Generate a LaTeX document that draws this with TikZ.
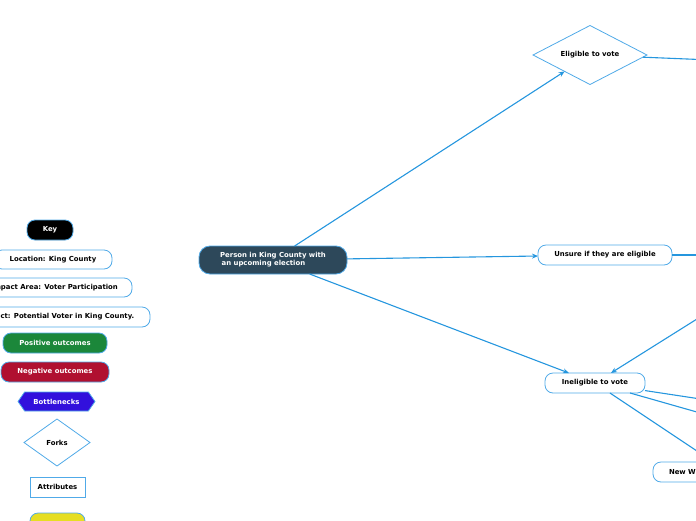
\documentclass[tikz,border=0pt]{standalone}
\usepackage{fontspec}
\setmainfont{DejaVu Sans}
\usepackage{xcolor}
\definecolor{linkblue}{RGB}{37,150,222}
\definecolor{boxborder}{RGB}{80,170,232}
\definecolor{rootfill}{RGB}{45,72,90}
\definecolor{posgreen}{RGB}{27,135,58}
\definecolor{negred}{RGB}{176,16,48}
\definecolor{bottleblue}{RGB}{50,16,220}
\definecolor{noteyellow}{RGB}{230,222,35}
\usetikzlibrary{positioning}
\usetikzlibrary{arrows.meta}
\usetikzlibrary{shapes.geometric}
\usetikzlibrary{shapes.symbols}

\begin{document}
\begin{tikzpicture}[x=1pt,y=-1pt,font=\bfseries\fontsize{6.9}{8.2}\selectfont,
      topic style/.style={rectangle,rounded corners=8pt,draw=boxborder,line width=0.8pt,
        fill=white,minimum height=20pt,inner xsep=8pt,inner ysep=0pt,outer sep=0pt},
      fork style/.style={diamond,aspect=2,draw=boxborder,line width=0.8pt,fill=white,inner sep=0pt,outer sep=0pt},
      link style/.style={draw=linkblue,line width=1.1pt},
      arrow style/.style={link style,-{Stealth[length=6pt,width=5pt]}}
      ]
      \useasboundingbox (0,0) rectangle (696,520);
      \clip (0,0) rectangle (696,520);

      \node[topic style, fill=rootfill, text=white, minimum width=148pt, minimum height=28pt,
        rounded corners=11pt, align=left] (person) at (273,260) {Person in King County with\\ \hspace{1.5pt}an upcoming election};

      \node[fork style, minimum width=114pt, minimum height=59pt] (eligible) at (590,55) {Eligible to vote};
      \node[topic style, minimum width=134pt] (unsure) at (605,255) {Unsure if they are eligible};
      \node[topic style, minimum width=100pt] (ineligible) at (595,383) {Ineligible to vote};
      \node[topic style, anchor=west, inner xsep=16pt] (newwa) at (653,472) {New W};

      \draw[arrow style] (person) -- (eligible);
      \draw[arrow style] (person) -- (unsure);
      \draw[arrow style] (person) -- (ineligible);

      % branches running off the page
      \coordinate (eligible out) at (760,62);
      \coordinate (unsure out) at (760,255);
      \coordinate (ineligible in) at (740,292);
      \coordinate (ineligible out a) at (760,408);
      \coordinate (ineligible out b) at (760,430);
      \coordinate (ineligible out c) at (760,493);
      \draw[link style] (eligible) -- (eligible out);
      \draw[link style] (unsure) -- (unsure out);
      \draw[arrow style] (ineligible in) -- (ineligible);
      \draw[link style] (ineligible) -- (ineligible out a);
      \draw[link style] (ineligible) -- (ineligible out b);
      \draw[link style] (ineligible) -- (ineligible out c);

      % key
      \node[topic style, fill=black, text=white, minimum width=46pt] (key) at (50,230) {Key};
      \node[topic style, below=10pt of key, xshift=3pt, minimum width=118pt, minimum height=19pt] (location) {Location: King County};
      \node[topic style, below=9pt of location, xshift=1.5pt, minimum width=155pt, minimum height=19pt] (impact) {Impact Area: Voter Participation};
      \node[topic style, below=10pt of impact, xshift=2pt, minimum width=187pt] (subject) {Subject: Potential Voter in King County.};
      \node[topic style, below=6pt of subject, xshift=-1.5pt, fill=posgreen, text=white, minimum width=104pt] (positive) {Positive outcomes};
      \node[topic style, below=9pt of positive, fill=negred, text=white, minimum width=108pt] (negative) {Negative outcomes};
      \node[signal, signal to=east and west, signal pointer angle=110, draw=boxborder, line width=0.8pt,
        fill=bottleblue, text=white, inner sep=0pt, outer sep=0pt, minimum width=77pt, minimum height=19pt,
        below=10pt of negative, xshift=1.5pt] (bottlenecks) {Bottlenecks};
      \node[fork style, below=8pt of bottlenecks, xshift=0.5pt, minimum width=66pt, minimum height=47pt] (forks) {Forks};
      \node[rectangle, draw=boxborder, line width=0.8pt, minimum width=55pt, minimum height=20pt,
        inner sep=0pt, outer sep=0pt, below=11pt of forks, xshift=0.5pt] (attributes) {Attributes};
      \node[topic style, fill=noteyellow, minimum width=55pt, below=16pt of attributes] (note) {};
    \end{tikzpicture}
\end{document}
